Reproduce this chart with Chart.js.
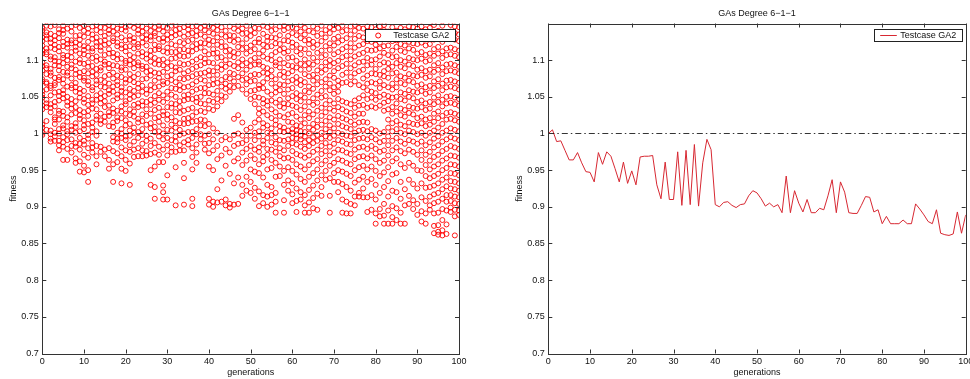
<!DOCTYPE html>
<html><head><meta charset="utf-8">
<script src="https://cdn.jsdelivr.net/npm/chart.js@4.4.0/dist/chart.umd.min.js"></script>
<style>
html,body{margin:0;padding:0;background:#fff;overflow:hidden;width:970px;height:379px;}
#w1{position:absolute;left:0;top:0;width:490px;height:379px;}
#w2{position:absolute;left:490px;top:0;width:490px;height:379px;}
</style></head><body>
<div id="w1"><canvas id="c1"></canvas></div>
<div id="w2"><canvas id="c2"></canvas></div>
<script>
const chartTitle = 'GAs Degree 6\u22121\u22121';
const seriesLabel = 'Testcase GA2';
const xAxisLabel = 'generations';
const yAxisLabel = 'fitness';
const xRange = [0, 100];
const yRange = [0.7, 1.15];
const xTicks = [0, 10, 20, 30, 40, 50, 60, 70, 80, 90, 100];
const yTicks = [0.7, 0.75, 0.8, 0.85, 0.9, 0.95, 1, 1.05, 1.1];
const referenceLevel = 1;

// best fitness per generation (right panel)
const bestFitness = [
1.000,1.005,0.989,0.990,0.977,0.964,0.964,0.974,0.960,0.948,
0.947,0.934,0.974,0.958,0.975,0.969,0.952,0.934,0.961,0.932,
0.949,0.930,0.968,0.969,0.969,0.970,0.930,0.911,0.961,0.910,
0.910,0.975,0.902,0.977,0.903,0.985,0.901,0.960,0.992,0.978,
0.903,0.900,0.906,0.907,0.902,0.899,0.903,0.904,0.915,0.922,
0.919,0.911,0.901,0.905,0.900,0.903,0.892,0.942,0.892,0.922,
0.905,0.893,0.910,0.892,0.892,0.898,0.896,0.915,0.937,0.892,
0.934,0.920,0.892,0.891,0.891,0.902,0.914,0.913,0.893,0.896,
0.877,0.887,0.877,0.877,0.877,0.882,0.877,0.877,0.904,0.897,
0.889,0.880,0.877,0.896,0.864,0.862,0.861,0.863,0.893,0.864,
0.889];

// fitness of every individual, one list per generation (left panel)
const population = [
[0.998,1.001,1.008,1.012,1.033,1.038,1.049,1.053,1.058,1.071,1.074,1.086,1.092,1.097,1.109,1.113,1.120,1.126,1.131,1.140,1.144],
[1.005,1.017,1.036,1.041,1.046,1.060,1.068,1.070,1.081,1.089,1.093,1.108,1.111,1.116,1.129,1.134,1.138,1.147],
[0.989,0.993,0.999,1.004,1.029,1.035,1.040,1.052,1.062,1.065,1.079,1.083,1.088,1.101,1.105,1.117,1.124,1.129,1.136,1.146],
[0.990,0.996,1.001,1.013,1.019,1.022,1.037,1.043,1.056,1.066,1.069,1.076,1.093,1.099,1.104,1.115,1.121,1.127,1.133,1.148],
[0.977,0.984,0.990,1.000,1.006,1.019,1.027,1.031,1.045,1.051,1.057,1.073,1.077,1.086,1.092,1.098,1.112,1.118,1.130,1.137,1.142],
[0.964,0.982,0.988,0.995,1.007,1.011,1.024,1.030,1.048,1.054,1.059,1.068,1.074,1.084,1.096,1.103,1.107,1.119,1.125,1.136,1.141,1.147],
[0.964,0.979,0.991,0.999,1.003,1.016,1.022,1.038,1.043,1.050,1.064,1.079,1.083,1.091,1.100,1.106,1.117,1.122,1.128,1.143],
[0.974,0.983,0.992,1.005,1.010,1.026,1.034,1.040,1.047,1.062,1.066,1.075,1.089,1.094,1.104,1.111,1.123,1.127,1.139,1.146],
[0.960,0.966,0.982,0.987,1.001,1.009,1.014,1.028,1.036,1.044,1.057,1.063,1.069,1.081,1.087,1.098,1.113,1.118,1.124,1.133,1.148],
[0.948,0.962,0.978,0.986,0.994,1.003,1.020,1.025,1.032,1.049,1.055,1.061,1.077,1.083,1.096,1.101,1.109,1.121,1.128,1.134,1.144],
[0.947,0.956,0.971,0.985,0.990,1.006,1.011,1.018,1.029,1.042,1.047,1.058,1.072,1.076,1.085,1.095,1.108,1.114,1.119,1.132,1.140,1.147],
[0.934,0.950,0.967,0.980,0.993,0.998,1.013,1.024,1.031,1.039,1.051,1.066,1.071,1.082,1.091,1.097,1.106,1.117,1.125,1.137,1.143],
[0.974,0.981,0.987,1.002,1.008,1.015,1.034,1.041,1.046,1.059,1.063,1.078,1.084,1.092,1.103,1.112,1.116,1.129,1.135,1.146],
[0.958,0.969,0.983,0.997,1.003,1.019,1.024,1.033,1.046,1.052,1.067,1.072,1.080,1.088,1.099,1.105,1.119,1.124,1.131,1.141,1.148],
[0.975,0.982,1.013,1.018,1.027,1.041,1.048,1.055,1.064,1.073,1.086,1.090,1.101,1.113,1.118,1.126,1.138,1.145],
[0.969,0.978,1.016,1.023,1.036,1.044,1.051,1.063,1.070,1.078,1.094,1.098,1.107,1.121,1.127,1.133,1.144],
[0.952,0.964,0.980,1.010,1.024,1.029,1.038,1.054,1.059,1.068,1.080,1.089,1.095,1.109,1.115,1.123,1.136,1.141,1.148],
[0.934,0.958,0.976,0.989,0.995,1.009,1.015,1.028,1.034,1.045,1.057,1.064,1.075,1.083,1.093,1.104,1.110,1.126,1.130,1.139,1.146],
[0.961,0.973,0.988,0.993,1.001,1.017,1.022,1.031,1.048,1.053,1.066,1.071,1.079,1.092,1.101,1.108,1.119,1.124,1.135,1.143],
[0.932,0.952,0.969,0.981,0.994,1.000,1.006,1.021,1.030,1.037,1.050,1.058,1.063,1.077,1.086,1.090,1.102,1.116,1.121,1.131,1.142,1.148],
[0.949,0.964,0.977,0.991,0.996,1.011,1.018,1.027,1.040,1.044,1.056,1.069,1.074,1.087,1.096,1.099,1.112,1.118,1.127,1.140,1.145],
[0.930,0.959,0.975,0.984,0.997,1.004,1.013,1.025,1.033,1.047,1.053,1.061,1.073,1.081,1.094,1.100,1.107,1.119,1.128,1.133,1.147],
[0.968,0.978,0.989,1.001,1.008,1.023,1.030,1.039,1.050,1.058,1.070,1.077,1.089,1.096,1.104,1.116,1.125,1.130,1.144],
[0.969,0.980,0.994,1.002,1.015,1.020,1.036,1.041,1.052,1.062,1.068,1.081,1.093,1.097,1.109,1.118,1.122,1.136,1.141,1.148],
[0.969,0.977,0.986,0.998,1.006,1.017,1.026,1.038,1.044,1.057,1.065,1.074,1.088,1.092,1.105,1.111,1.124,1.131,1.139,1.146],
[0.970,0.976,0.990,0.997,1.012,1.024,1.033,1.043,1.054,1.060,1.075,1.084,1.091,1.102,1.108,1.120,1.129,1.134,1.143],
[0.930,0.950,0.972,0.983,0.993,1.007,1.014,1.027,1.039,1.046,1.059,1.066,1.079,1.086,1.098,1.106,1.113,1.127,1.132,1.140,1.148],
[0.911,0.927,0.955,0.974,0.987,1.002,1.009,1.021,1.032,1.042,1.051,1.063,1.072,1.083,1.095,1.103,1.114,1.121,1.133,1.137,1.145],
[0.961,0.971,0.982,0.996,1.003,1.016,1.023,1.035,1.046,1.055,1.064,1.076,1.082,1.094,1.100,1.115,1.119,1.129,1.142,1.147],
[0.910,0.920,0.929,0.961,0.978,0.992,1.000,1.011,1.025,1.030,1.043,1.052,1.067,1.071,1.084,1.093,1.101,1.112,1.125,1.130,1.139,1.146],
[0.910,0.943,0.970,0.984,0.994,1.005,1.019,1.026,1.036,1.048,1.057,1.069,1.078,1.089,1.097,1.110,1.117,1.128,1.135,1.144],
[0.975,0.981,0.991,1.004,1.012,1.022,1.035,1.041,1.053,1.062,1.073,1.080,1.092,1.102,1.111,1.122,1.131,1.138,1.147],
[0.902,0.954,0.975,0.989,0.996,1.008,1.017,1.029,1.040,1.050,1.061,1.070,1.085,1.090,1.103,1.111,1.120,1.134,1.141,1.148],
[0.977,0.984,0.998,1.005,1.014,1.028,1.036,1.044,1.059,1.066,1.075,1.087,1.096,1.106,1.114,1.125,1.136,1.143],
[0.903,0.939,0.960,0.977,0.988,1.000,1.013,1.020,1.031,1.045,1.052,1.063,1.074,1.082,1.094,1.105,1.115,1.123,1.132,1.145],
[0.985,0.991,1.002,1.014,1.021,1.033,1.047,1.053,1.064,1.076,1.085,1.095,1.106,1.113,1.126,1.135,1.142,1.148],
[0.901,0.911,0.951,0.968,0.980,0.994,1.002,1.016,1.024,1.035,1.047,1.057,1.067,1.078,1.088,1.098,1.112,1.119,1.128,1.137,1.146],
[0.960,0.974,0.985,0.999,1.006,1.017,1.029,1.043,1.049,1.060,1.071,1.081,1.091,1.101,1.115,1.122,1.133,1.140,1.147],
[0.992,0.999,1.011,1.019,1.031,1.041,1.050,1.062,1.074,1.082,1.093,1.104,1.117,1.124,1.135,1.144],
[0.978,0.986,0.997,1.010,1.018,1.029,1.040,1.055,1.062,1.072,1.083,1.096,1.102,1.112,1.123,1.132,1.141,1.147],
[0.903,0.911,0.955,0.973,0.987,0.999,1.013,1.034,1.045,1.055,1.066,1.079,1.086,1.097,1.108,1.121,1.128,1.138,1.146],
[0.900,0.907,0.950,0.977,0.992,1.007,1.032,1.043,1.053,1.067,1.074,1.085,1.096,1.109,1.115,1.126,1.136,1.144],
[0.906,0.924,0.965,0.983,1.001,1.037,1.047,1.058,1.069,1.080,1.090,1.103,1.110,1.121,1.131,1.141,1.148],
[0.907,0.936,0.970,0.991,1.044,1.052,1.064,1.073,1.087,1.094,1.104,1.118,1.125,1.135,1.145],
[0.902,0.910,0.956,0.979,0.995,1.050,1.061,1.068,1.077,1.091,1.100,1.112,1.119,1.132,1.140],
[0.899,0.904,0.945,0.974,0.992,1.057,1.065,1.075,1.083,1.095,1.106,1.114,1.127,1.134,1.146],
[0.903,0.932,0.962,0.983,0.998,1.020,1.063,1.071,1.081,1.092,1.104,1.111,1.125,1.133,1.143],
[0.904,0.940,0.966,0.986,1.000,1.025,1.065,1.077,1.089,1.097,1.109,1.118,1.128,1.140,1.148],
[0.915,0.930,0.957,0.974,0.987,0.997,1.015,1.060,1.073,1.082,1.093,1.101,1.115,1.123,1.136,1.143],
[0.922,0.941,0.963,0.979,0.991,1.005,1.054,1.067,1.075,1.087,1.096,1.109,1.117,1.129,1.137,1.147],
[0.919,0.934,0.951,0.970,0.983,0.997,1.008,1.047,1.058,1.071,1.079,1.092,1.100,1.112,1.120,1.133,1.141],
[0.911,0.926,0.948,0.965,0.978,0.991,1.001,1.015,1.040,1.050,1.059,1.072,1.081,1.094,1.103,1.115,1.124,1.137,1.144],
[0.901,0.921,0.946,0.958,0.975,0.981,0.996,1.003,1.019,1.027,1.034,1.049,1.061,1.066,1.080,1.094,1.098,1.109,1.124,1.129,1.143],
[0.905,0.916,0.940,0.962,0.968,0.985,0.990,1.008,1.014,1.030,1.041,1.047,1.062,1.070,1.083,1.091,1.105,1.113,1.121,1.136,1.147],
[0.900,0.914,0.930,0.951,0.971,0.979,0.994,1.001,1.011,1.025,1.038,1.044,1.057,1.075,1.082,1.089,1.102,1.118,1.126,1.132,1.145],
[0.903,0.916,0.927,0.953,0.964,0.978,0.988,1.000,1.007,1.021,1.033,1.045,1.053,1.068,1.078,1.086,1.100,1.107,1.119,1.131,1.140,1.148],
[0.892,0.907,0.919,0.941,0.960,0.975,0.986,0.995,1.012,1.018,1.029,1.042,1.056,1.063,1.074,1.093,1.097,1.111,1.123,1.130,1.142],
[0.942,0.955,0.969,0.980,0.991,1.003,1.010,1.024,1.037,1.046,1.059,1.067,1.080,1.090,1.101,1.114,1.122,1.134,1.146],
[0.892,0.909,0.930,0.949,0.966,0.977,0.990,1.002,1.008,1.022,1.035,1.041,1.054,1.066,1.077,1.084,1.096,1.110,1.116,1.127,1.141,1.147],
[0.922,0.936,0.954,0.967,0.983,0.992,1.004,1.016,1.026,1.040,1.048,1.060,1.071,1.082,1.093,1.103,1.112,1.126,1.133,1.144],
[0.905,0.917,0.932,0.949,0.964,0.976,0.987,0.994,1.001,1.006,1.015,1.028,1.038,1.051,1.062,1.073,1.085,1.092,1.104,1.118,1.124,1.137,1.145],
[0.893,0.908,0.925,0.944,0.958,0.972,0.985,0.993,0.999,1.004,1.011,1.023,1.036,1.047,1.055,1.069,1.077,1.090,1.099,1.112,1.121,1.134,1.143],
[0.910,0.920,0.938,0.955,0.970,0.982,0.992,0.997,1.003,1.010,1.019,1.032,1.044,1.052,1.066,1.073,1.087,1.095,1.108,1.116,1.130,1.139,1.148],
[0.892,0.902,0.916,0.934,0.951,0.967,0.979,0.988,0.996,1.002,1.014,1.025,1.037,1.049,1.058,1.070,1.081,1.093,1.101,1.115,1.127,1.135,1.144],
[0.892,0.906,0.923,0.941,0.957,0.970,0.983,0.991,1.000,1.008,1.021,1.030,1.043,1.056,1.064,1.078,1.088,1.096,1.109,1.122,1.128,1.140],
[0.898,0.912,0.929,0.946,0.962,0.975,0.987,0.995,1.005,1.013,1.026,1.039,1.048,1.061,1.072,1.080,1.094,1.103,1.117,1.125,1.138,1.146],
[0.896,0.918,0.936,0.951,0.965,0.978,0.990,0.998,1.009,1.018,1.031,1.042,1.053,1.067,1.076,1.086,1.098,1.110,1.121,1.133,1.143],
[0.915,0.927,0.943,0.958,0.972,0.983,0.993,1.001,1.012,1.024,1.035,1.049,1.058,1.070,1.083,1.091,1.104,1.113,1.126,1.136,1.147],
[0.937,0.949,0.963,0.976,0.987,0.996,1.006,1.017,1.029,1.040,1.051,1.064,1.074,1.087,1.097,1.107,1.119,1.131,1.141],
[0.892,0.915,0.939,0.956,0.970,0.982,0.994,1.002,1.011,1.022,1.034,1.045,1.059,1.068,1.079,1.092,1.100,1.114,1.123,1.137,1.145],
[0.934,0.946,0.960,0.974,0.986,0.997,1.007,1.019,1.031,1.041,1.054,1.063,1.076,1.085,1.096,1.108,1.120,1.129,1.142,1.148],
[0.920,0.934,0.950,0.965,0.978,0.991,1.001,1.013,1.024,1.036,1.047,1.057,1.065,1.072,1.089,1.099,1.111,1.124,1.132,1.144],
[0.892,0.910,0.931,0.948,0.963,0.977,0.989,0.999,1.010,1.021,1.033,1.044,1.069,1.080,1.092,1.104,1.115,1.127,1.139,1.147],
[0.891,0.907,0.927,0.945,0.960,0.974,0.986,0.997,1.008,1.019,1.030,1.042,1.070,1.083,1.095,1.106,1.118,1.130,1.141],
[0.891,0.904,0.922,0.942,0.958,0.972,0.985,0.996,1.006,1.016,1.028,1.040,1.067,1.077,1.089,1.101,1.112,1.123,1.135,1.146],
[0.902,0.914,0.933,0.950,0.965,0.978,0.991,1.001,1.012,1.023,1.035,1.045,1.071,1.082,1.093,1.105,1.117,1.129,1.140,1.148],
[0.914,0.919,0.937,0.954,0.968,0.981,0.993,1.004,1.015,1.027,1.038,1.048,1.066,1.085,1.097,1.108,1.120,1.133,1.144],
[0.913,0.925,0.941,0.956,0.969,0.982,0.994,1.005,1.016,1.027,1.039,1.052,1.063,1.075,1.087,1.098,1.110,1.122,1.131,1.143],
[0.893,0.913,0.934,0.951,0.966,0.979,0.992,1.003,1.015,1.035,1.047,1.059,1.068,1.079,1.093,1.103,1.114,1.126,1.138,1.146],
[0.896,0.916,0.938,0.955,0.970,0.983,0.995,1.006,1.037,1.049,1.057,1.070,1.082,1.094,1.100,1.113,1.125,1.134,1.145],
[0.877,0.891,0.910,0.930,0.949,0.965,0.979,0.992,1.004,1.035,1.046,1.055,1.068,1.081,1.088,1.101,1.114,1.121,1.135,1.142],
[0.887,0.897,0.919,0.942,0.960,0.975,0.988,1.000,1.038,1.050,1.062,1.071,1.080,1.094,1.105,1.116,1.124,1.137,1.146],
[0.877,0.888,0.904,0.927,0.947,0.963,0.977,0.990,1.002,1.031,1.042,1.053,1.066,1.078,1.085,1.097,1.110,1.119,1.132,1.141,1.148],
[0.877,0.895,0.914,0.935,0.954,0.970,0.984,0.996,1.008,1.019,1.033,1.044,1.051,1.063,1.076,1.088,1.096,1.107,1.120,1.129,1.139],
[0.877,0.886,0.901,0.922,0.944,0.962,0.977,0.990,1.003,1.014,1.027,1.036,1.049,1.060,1.068,1.082,1.091,1.104,1.113,1.126,1.135,1.145],
[0.882,0.898,0.920,0.946,0.966,0.981,0.994,1.006,1.017,1.030,1.041,1.050,1.063,1.074,1.083,1.096,1.105,1.118,1.127,1.140],
[0.877,0.892,0.911,0.934,0.958,0.976,0.989,1.001,1.012,1.025,1.034,1.047,1.056,1.069,1.078,1.091,1.100,1.113,1.122,1.135,1.144],
[0.877,0.902,0.924,0.953,0.973,0.986,0.999,1.010,1.023,1.032,1.045,1.054,1.067,1.076,1.089,1.098,1.111,1.120,1.133,1.142],
[0.904,0.915,0.937,0.960,0.978,0.991,1.004,1.015,1.028,1.037,1.050,1.059,1.072,1.081,1.094,1.103,1.116,1.125,1.138,1.146],
[0.897,0.909,0.931,0.956,0.975,0.989,1.002,1.013,1.026,1.035,1.048,1.057,1.070,1.079,1.092,1.101,1.114,1.123,1.136,1.145],
[0.889,0.904,0.925,0.950,0.971,0.986,0.999,1.012,1.021,1.034,1.043,1.056,1.065,1.078,1.087,1.100,1.109,1.122,1.131,1.143],
[0.880,0.894,0.913,0.932,0.949,0.964,0.977,0.989,1.001,1.014,1.023,1.036,1.045,1.058,1.067,1.080,1.089,1.102,1.111,1.124,1.133,1.146],
[0.877,0.891,0.908,0.926,0.942,0.957,0.971,0.984,0.997,1.010,1.019,1.032,1.041,1.054,1.063,1.076,1.085,1.098,1.107,1.120,1.129,1.142],
[0.896,0.902,0.914,0.927,0.939,0.951,0.963,0.975,0.988,1.001,1.012,1.021,1.034,1.043,1.056,1.065,1.078,1.087,1.100,1.109,1.122,1.131,1.144],
[0.864,0.874,0.891,0.905,0.917,0.929,0.942,0.955,0.968,0.981,0.993,1.004,1.016,1.027,1.040,1.049,1.062,1.071,1.084,1.093,1.106,1.115,1.128,1.137,1.148],
[0.862,0.866,0.875,0.892,0.907,0.919,0.932,0.945,0.958,0.971,0.984,0.996,1.008,1.021,1.030,1.043,1.052,1.065,1.074,1.087,1.096,1.109,1.118,1.131,1.140],
[0.861,0.868,0.882,0.897,0.911,0.924,0.937,0.950,0.963,0.976,0.989,1.001,1.013,1.024,1.037,1.046,1.059,1.068,1.081,1.090,1.103,1.112,1.125,1.134,1.147],
[0.863,0.876,0.895,0.907,0.916,0.928,0.940,0.953,0.966,0.979,0.992,1.004,1.019,1.028,1.041,1.050,1.063,1.072,1.085,1.094,1.107,1.116,1.129,1.138],
[0.893,0.899,0.908,0.916,0.925,0.935,0.946,0.958,0.970,0.983,0.995,1.007,1.020,1.029,1.042,1.051,1.064,1.073,1.086,1.095,1.108,1.117,1.130,1.139,1.148],
[0.861,0.887,0.896,0.905,0.914,0.924,0.934,0.945,0.957,0.969,0.981,0.993,1.005,1.018,1.027,1.040,1.049,1.062,1.071,1.084,1.093,1.106,1.115,1.128,1.137,1.146],
[0.889,0.895,0.904,0.913,0.922,0.932,0.943,0.955,0.967,0.979,0.991,1.003,1.016,1.025,1.038,1.047,1.060,1.069,1.082,1.091,1.104,1.113,1.126,1.135,1.145]
];
const generations = population.map((_, i) => i);

const FONT = "'Liberation Sans', Arial, Helvetica, sans-serif";
const TEXT = '#111';
const RED = 'rgb(255,0,0)';

const matlabAxes = {
  id: 'matlabAxes',
  afterDatasetsDraw(chart, args, opts) {
    const {ctx, chartArea: a, scales: {x, y}} = chart;
    ctx.save();
    const yr = Math.round(y.getPixelForValue(referenceLevel)) + 0.5;
    ctx.strokeStyle = '#000'; ctx.lineWidth = 0.8;
    ctx.setLineDash([6, 3, 1.5, 3]);
    ctx.beginPath(); ctx.moveTo(a.left, yr); ctx.lineTo(a.right, yr); ctx.stroke();
    ctx.setLineDash([]);
    ctx.strokeStyle = '#333'; ctx.lineWidth = 1;
    ctx.strokeRect(Math.round(a.left) + 0.5, Math.round(a.top) + 0.5,
                   Math.round(a.right) - Math.round(a.left), Math.round(a.bottom) - Math.round(a.top));
    const tl = 4;
    ctx.beginPath();
    xTicks.forEach(v => {
      const px = Math.round(x.getPixelForValue(v)) + 0.5;
      ctx.moveTo(px, a.bottom); ctx.lineTo(px, a.bottom - tl);
      ctx.moveTo(px, a.top); ctx.lineTo(px, a.top + tl);
    });
    yTicks.forEach(v => {
      const py = Math.round(y.getPixelForValue(v)) + 0.5;
      ctx.moveTo(a.left, py); ctx.lineTo(a.left + tl, py);
      ctx.moveTo(a.right, py); ctx.lineTo(a.right - tl, py);
    });
    ctx.stroke();
    ctx.font = '9px ' + FONT;
    const textStart = opts.marker === 'circle' ? 27.7 : 25.7;
    const tw = ctx.measureText(seriesLabel).width;
    const bw = Math.round(textStart + tw + 6);
    const bh = 12;
    const bx = Math.round(a.right - 4 - bw) + 0.5;
    const by = Math.round(a.top + 5) + 0.5;
    ctx.fillStyle = '#fff';
    ctx.fillRect(bx, by, bw, bh);
    ctx.strokeStyle = '#222'; ctx.lineWidth = 1;
    ctx.strokeRect(bx, by, bw, bh);
    const my = by + bh / 2;
    if (opts.marker === 'circle') {
      ctx.strokeStyle = RED;
      ctx.lineWidth = 1;
      ctx.beginPath(); ctx.arc(bx + 12.7, my, 2.5, 0, Math.PI * 2); ctx.stroke();
    } else {
      ctx.strokeStyle = 'rgb(215,40,50)';
      ctx.lineWidth = 1;
      ctx.beginPath(); ctx.moveTo(bx + 5.7, my); ctx.lineTo(bx + 22.3, my); ctx.stroke();
    }
    ctx.fillStyle = TEXT;
    ctx.textBaseline = 'middle';
    ctx.textAlign = 'left';
    ctx.fillText(seriesLabel, bx + textStart, my + 0.5);
    ctx.restore();
  }
};

function buildOptions(yAxisWidth, yTitlePad, rightPad, marker) {
  const font = {family: FONT, size: 9, weight: 'normal'};
  return {
    animation: false,
    responsive: true,
    maintainAspectRatio: false,
    layout: {padding: {left: 0, right: rightPad, top: 0, bottom: 0}},
    plugins: {
      legend: {display: false},
      tooltip: {enabled: false},
      title: {display: true, text: chartTitle, fullSize: false, color: TEXT, font,
              padding: {top: 8.6, bottom: 4.1}},
      matlabAxes: {marker}
    },
    scales: {
      x: {
        type: 'linear', min: xRange[0], max: xRange[1],
        grid: {display: false, drawTicks: false},
        border: {display: false},
        ticks: {padding: 2.8, color: TEXT, font, maxRotation: 0, autoSkip: false,
                callback: v => String(v)},
        afterBuildTicks: s => { s.ticks = xTicks.map(v => ({value: v})); },
        afterFit: s => { s.height = 25.5; s.paddingLeft = 0; s.paddingRight = 0; },
        title: {display: true, text: xAxisLabel, color: TEXT, font, padding: {top: 0, bottom: 0.9}}
      },
      y: {
        type: 'linear', min: yRange[0], max: yRange[1],
        grid: {display: false, drawTicks: false},
        border: {display: false},
        ticks: {padding: 3.5, color: TEXT, font, autoSkip: false,
                callback: v => String(Math.round(v * 100) / 100)},
        afterBuildTicks: s => { s.ticks = yTicks.map(v => ({value: v})); },
        afterFit: s => { s.width = yAxisWidth; s.paddingTop = 0; s.paddingBottom = 0; },
        title: {display: true, text: yAxisLabel, color: TEXT, font, padding: {top: yTitlePad, bottom: 0}}
      }
    }
  };
}

const scatterPoints = population.flatMap((vals, g) => vals.map(v => ({x: generations[g], y: v})));

new Chart(document.getElementById('c1'), {
  type: 'scatter',
  data: {datasets: [{
    label: seriesLabel,
    data: scatterPoints,
    pointStyle: 'circle',
    pointRadius: 2.5,
    borderWidth: 1,
    borderColor: 'rgba(255,0,0,0.9)',
    backgroundColor: 'rgba(0,0,0,0)'
  }]},
  options: buildOptions(42.3, 7.9, 31, 'circle'),
  plugins: [matlabAxes]
});

new Chart(document.getElementById('c2'), {
  type: 'line',
  data: {datasets: [{
    label: seriesLabel,
    data: bestFitness.map((v, g) => ({x: generations[g], y: v})),
    borderColor: 'rgb(215,40,50)',
    borderWidth: 1,
    pointRadius: 0,
    tension: 0,
    fill: false
  }]},
  options: buildOptions(58.3, 24.6, 14.3, 'line'),
  plugins: [matlabAxes]
});
</script>
</body></html>
